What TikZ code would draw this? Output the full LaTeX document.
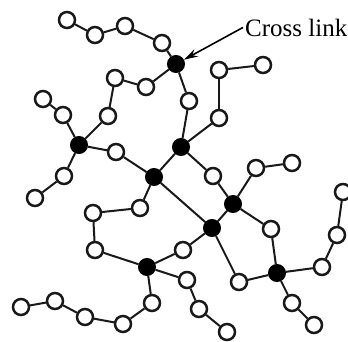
\documentclass[tikz,border=0pt]{standalone}
\usepackage{fontspec}
\setmainfont{Liberation Serif}
\usetikzlibrary{arrows.meta}
\begin{document}
\begin{tikzpicture}[x=1pt,y=-1pt,
  mono/.style={circle, draw=black!90, line width=2.5pt, fill=white, minimum size=16pt, inner sep=0pt},
  xl/.style={circle, draw=black, fill=black, line width=2pt, minimum size=16pt, inner sep=0pt},
  bond/.style={line width=2pt, draw=black!90}]
\useasboundingbox (0,0) rectangle (348,341);
% monomers
\node[mono] (A1) at (67,20) {};
\node[mono] (A2) at (95,35) {};
\node[mono] (A3) at (125,26) {};
\node[mono] (A4) at (162,43) {};
\node[xl]   (X1) at (176,64) {};
\node[mono] (B1) at (115,78) {};
\node[mono] (B2) at (146,87) {};
\node[mono] (B3) at (108,116) {};
\node[xl]   (X2) at (79,145) {};
\node[mono] (C1) at (43,99) {};
\node[mono] (C2) at (63,115) {};
\node[mono] (D1) at (116,152) {};
\node[mono] (E1) at (64,176) {};
\node[mono] (E2) at (35,198) {};
\node[xl]   (X3) at (154,177) {};
\node[mono] (F1) at (140,208) {};
\node[mono] (F2) at (93,213) {};
\node[mono] (F3) at (95,250) {};
\node[xl]   (X4) at (147,267) {};
\node[mono] (G1) at (152,303) {};
\node[mono] (G2) at (123,324) {};
\node[mono] (G3) at (85,317) {};
\node[mono] (G4) at (55,301) {};
\node[mono] (G5) at (21,307) {};
\node[mono] (H1) at (187,280) {};
\node[mono] (H2) at (199,309) {};
\node[mono] (H3) at (227,332) {};
\node[mono] (I1) at (183,250) {};
\node[xl]   (X5) at (212,228) {};
\node[xl]   (X6) at (233,204) {};
\node[mono] (J1) at (213,176) {};
\node[mono] (S1) at (256,168) {};
\node[mono] (S2) at (292,163) {};
\node[mono] (K1) at (271,229) {};
\node[xl]   (X7) at (277,273) {};
\node[mono] (L1) at (239,282) {};
\node[mono] (M1) at (322,267) {};
\node[mono] (M2) at (337,235) {};
\node[mono] (M3) at (343,192) {};
\node[mono] (N1) at (292,303) {};
\node[mono] (N2) at (314,325) {};
\node[xl]   (X8) at (181,147) {};
\node[mono] (P1) at (189,101) {};
\node[mono] (Q1) at (219,118) {};
\node[mono] (T1) at (219,70) {};
\node[mono] (T2) at (263,65) {};
% bonds
\foreach \a/\b in {A1/A2,A2/A3,A3/A4,A4/X1,X1/B2,B2/B1,B1/B3,B3/X2,C1/C2,C2/X2,
  X2/D1,D1/X3,X2/E1,E1/E2,X1/P1,P1/X8,X8/Q1,Q1/T1,T1/T2,X8/X3,X8/J1,J1/X6,
  X6/S1,S1/S2,X6/K1,K1/X7,X6/X5,X3/X5,X3/F1,F1/F2,F2/F3,F3/X4,X4/G1,G1/G2,
  G2/G3,G3/G4,G4/G5,X4/I1,I1/X5,X4/H1,H1/H2,H2/H3,X5/L1,L1/X7,X7/M1,M1/M2,
  M2/M3,X7/N1,N1/N2}
  \draw[bond] (\a) -- (\b);
% label
\node[anchor=base west, inner sep=0pt, font=\fontsize{25}{28}\selectfont] (cl) at (245,36) {Cross link};
\draw[line width=1.6pt, -{Stealth[length=14pt,width=8pt]}] ([xshift=-2pt]cl.west) -- (X1);
\end{tikzpicture}
\end{document}
